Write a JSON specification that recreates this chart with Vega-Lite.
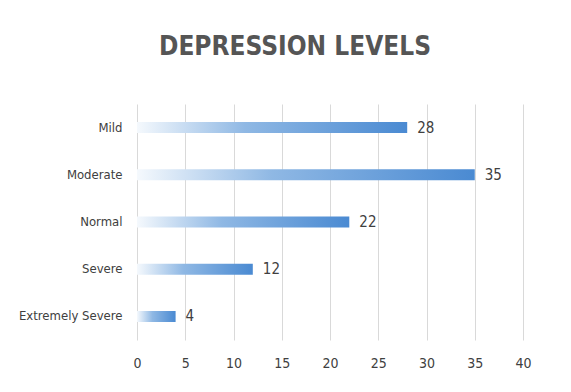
{
  "$schema": "https://vega.github.io/schema/vega-lite/v6.json",
  "autosize": {"type": "none"},
  "padding": {"left": 137, "top": 104, "right": 48, "bottom": 52},
  "width": 386,
  "height": 236,
  "background": "white",
  "title": {
    "text": "DEPRESSION LEVELS",
    "font": "DejaVu Sans Condensed",
    "fontSize": 26,
    "fontWeight": "bold",
    "color": "#555555",
    "anchor": "middle",
    "offset": 44,
    "dx": -35
  },
  "data": {
    "values": [
      {"level": "Mild", "count": 28},
      {"level": "Moderate", "count": 35},
      {"level": "Normal", "count": 22},
      {"level": "Severe", "count": 12},
      {"level": "Extremely Severe", "count": 4}
    ]
  },
  "encoding": {
    "y": {
      "field": "level",
      "type": "nominal",
      "sort": null,
      "title": null,
      "axis": {
        "domain": false,
        "ticks": false,
        "labelPadding": 15,
        "labelFont": "DejaVu Sans Condensed",
        "labelFontSize": 13,
        "labelColor": "#404040"
      }
    },
    "x": {
      "field": "count",
      "type": "quantitative",
      "title": null,
      "scale": {"domain": [0, 40], "nice": false},
      "axis": {
        "values": [0, 5, 10, 15, 20, 25, 30, 35, 40],
        "domain": false,
        "ticks": false,
        "grid": true,
        "gridColor": "#d9d9d9",
        "gridWidth": 1,
        "labelFlush": false,
        "labelPadding": 16,
        "labelFont": "DejaVu Sans Condensed",
        "labelFontSize": 14,
        "labelColor": "#404040"
      }
    }
  },
  "layer": [
    {
      "mark": {
        "type": "bar",
        "size": 11,
        "color": {
          "gradient": "linear",
          "x1": 0, "y1": 0, "x2": 1, "y2": 0,
          "stops": [
            {"offset": 0, "color": "#f5f9fd"},
            {"offset": 0.4, "color": "#8fb8e4"},
            {"offset": 1, "color": "#4a8ad2"}
          ]
        }
      }
    },
    {
      "mark": {
        "type": "text",
        "align": "left",
        "baseline": "middle",
        "dx": 10,
        "font": "DejaVu Sans Condensed",
        "fontSize": 15,
        "color": "#404040"
      },
      "encoding": {"text": {"field": "count", "type": "quantitative"}}
    }
  ],
  "config": {"view": {"stroke": null}}
}
